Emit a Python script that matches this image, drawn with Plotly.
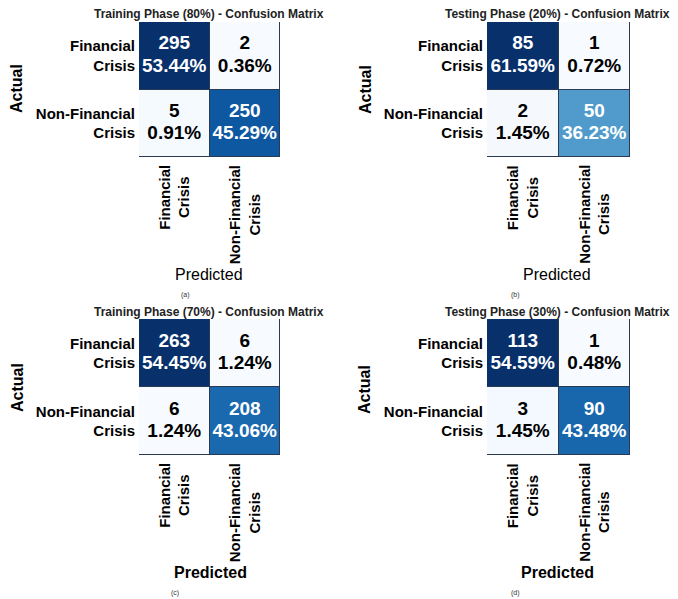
import plotly.graph_objects as go
import plotly.colors as pc

W, H = 678, 599

classes = ["Financial Crisis", "Non-Financial Crisis"]
tick_text = ["Financial<br>Crisis", "Non-Financial<br>Crisis"]

titles = [
    "Training Phase (80%) - Confusion Matrix",
    "Testing Phase (20%) - Confusion Matrix",
    "Training Phase (70%) - Confusion Matrix",
    "Testing Phase (30%) - Confusion Matrix",
]
captions = ["(a)", "(b)", "(c)", "(d)"]

counts_a = [[295, 2], [5, 250]]
pcts_a = [[53.44, 0.36], [0.91, 45.29]]
counts_b = [[85, 1], [2, 50]]
pcts_b = [[61.59, 0.72], [1.45, 36.23]]
counts_c = [[263, 6], [6, 208]]
pcts_c = [[54.45, 1.24], [1.24, 43.06]]
counts_d = [[113, 1], [3, 90]]
pcts_d = [[54.59, 0.48], [1.45, 43.48]]

all_counts = [counts_a, counts_b, counts_c, counts_d]
all_pcts = [pcts_a, pcts_b, pcts_c, pcts_d]
pred_bold = [False, False, True, True]

FONT = "Liberation Sans, Arial, sans-serif"

# layout geometry (pixels)
col_x = [(139, 280), (487, 630)]
row_y = [(22, 157), (319, 455)]
title_pos = [(209, 14), (557, 14), (209, 312), (557, 312)]
actual_pos = [(17, 89), (365, 90), (17, 388), (365, 390)]
pred_pos = [(209, 275), (557, 275), (210, 572), (557, 572)]
cap_pos = [(185, 295), (515, 295), (175, 593), (515, 593)]


def px_x(p):
    return p / W


def px_y(p):
    return 1 - p / H


fig = go.Figure()
annotations = []
layout_axes = {}

for k in range(4):
    r, c = divmod(k, 2)
    sfx = "" if k == 0 else str(k + 1)
    xa, ya = "x" + sfx, "y" + sfx
    z = all_counts[k]
    zmin = min(min(row) for row in z)
    zmax = max(max(row) for row in z)
    fig.add_trace(go.Heatmap(
        z=z, x=classes, y=classes, xaxis=xa, yaxis=ya,
        colorscale=pc.sequential.Blues, zmin=zmin, zmax=zmax,
        showscale=False, xgap=1, ygap=1, hoverinfo="skip",
    ))
    xs, ys, t_cnt, t_pct, cols = [], [], [], [], []
    for i in range(2):
        for j in range(2):
            xs.append(classes[j])
            ys.append(classes[i])
            t_cnt.append(f"{z[i][j]}")
            t_pct.append(f"{all_pcts[k][i][j]:.2f}%")
            norm = (z[i][j] - zmin) / (zmax - zmin)
            cols.append("white" if norm > 0.4 else "black")
    for txt, pos in ((t_cnt, "top center"), (t_pct, "bottom center")):
        fig.add_trace(go.Scatter(
            x=xs, y=ys, xaxis=xa, yaxis=ya, mode="markers+text", text=txt,
            textposition=pos,
            marker=dict(size=1, opacity=0),
            textfont=dict(family=FONT, size=19, color=cols, weight="bold"),
            hoverinfo="skip", showlegend=False,
        ))
    x0, x1 = col_x[c]
    y0, y1 = row_y[r]
    layout_axes["xaxis" + sfx] = dict(
        domain=[px_x(x0), px_x(x1)], anchor=ya, showticklabels=False,
        showgrid=False, zeroline=False, ticks="", fixedrange=True,
        categoryorder="array", categoryarray=classes,
    )
    layout_axes["yaxis" + sfx] = dict(
        domain=[px_y(y1), px_y(y0)], anchor=xa, autorange="reversed",
        showgrid=False, zeroline=False, ticks="",
        tickmode="array", tickvals=classes, ticktext=tick_text,
        tickfont=dict(family=FONT, size=15, color="black", weight="bold"),
        ticklabelstandoff=3,
    )
    for j in range(2):
        annotations.append(dict(
            x=classes[j], xref=xa, y=px_y(y1 + 6), yref="paper",
            text=tick_text[j], textangle=-90, showarrow=False,
            xanchor="center", yanchor="top", align="center",
            font=dict(family=FONT, size=15, color="black", weight="bold"),
        ))
    tx, ty = title_pos[k]
    annotations.append(dict(
        x=px_x(tx), y=px_y(ty), xref="paper", yref="paper", text=titles[k],
        showarrow=False, xanchor="center", yanchor="middle",
        font=dict(family=FONT, size=12, color="#222", weight="bold"),
    ))
    ax_, ay_ = actual_pos[k]
    annotations.append(dict(
        x=px_x(ax_), y=px_y(ay_), xref="paper", yref="paper", text="Actual",
        textangle=-90, showarrow=False, xanchor="center", yanchor="middle",
        font=dict(family=FONT, size=16, color="black", weight="bold"),
    ))
    pxp, pyp = pred_pos[k]
    annotations.append(dict(
        x=px_x(pxp), y=px_y(pyp), xref="paper", yref="paper", text="Predicted",
        showarrow=False, xanchor="center", yanchor="middle",
        font=dict(family=FONT, size=16, color="black",
                  weight="bold" if pred_bold[k] else "normal"),
    ))
    cx, cy = cap_pos[k]
    annotations.append(dict(
        x=px_x(cx), y=px_y(cy), xref="paper", yref="paper", text=captions[k],
        showarrow=False, xanchor="center", yanchor="middle",
        font=dict(family=FONT, size=7, color="#333"),
    ))

fig.update_layout(
    width=W, height=H, margin=dict(l=0, r=0, t=0, b=0),
    paper_bgcolor="white", plot_bgcolor="#2a3a55",
    showlegend=False, annotations=annotations, **layout_axes,
)

fig.write_html("out.html")
